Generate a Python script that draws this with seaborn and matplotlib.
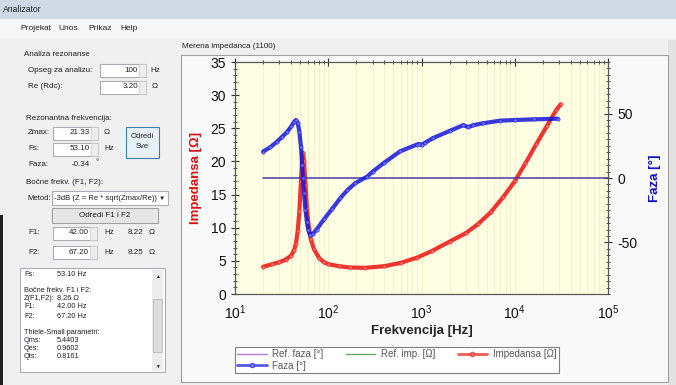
import numpy as np
import pandas as pd
import matplotlib
matplotlib.use("Agg")
import matplotlib.pyplot as plt
import matplotlib.patches as mpatches
from matplotlib.lines import Line2D
from matplotlib.ticker import LogLocator, MultipleLocator, NullFormatter
import seaborn as sns

# values
freq_imp = [20, 25, 30, 35, 40, 43, 45, 47, 49, 51, 52.5, 53.5, 55, 57, 59, 62, 65, 70, 80, 90,
            100, 130, 170, 250, 400, 600, 900, 1300, 2000, 3000, 4000, 5500, 7500, 10000,
            13000, 17000, 22000, 28000, 31000]
imp = [4.1, 4.5, 4.8, 5.2, 5.8, 6.6, 7.6, 9.5, 12.5, 17.0, 20.5, 21.3, 20.0, 16.5, 13.0, 10.0,
       8.3, 6.8, 5.4, 4.8, 4.5, 4.2, 4.0, 3.95, 4.2, 4.7, 5.5, 6.5, 7.9, 9.2, 10.5, 12.3, 14.6,
       17.0, 19.7, 22.6, 25.3, 27.8, 28.6]

freq_faza = [20, 24, 28, 32, 36, 40, 43, 45, 47, 49, 51, 52.5, 53.5, 55, 57, 59, 61, 64, 68, 75,
             90, 110, 135, 160, 195, 260, 300, 400, 590, 890, 950, 1000, 1100, 1330, 2000, 2800,
             3170, 3600, 4600, 7000, 10000, 16000, 29000]
faza = [20.5, 24, 28, 32, 35.5, 40, 43.5, 45, 43, 36, 24, 10, 0, -12, -25, -34, -40, -44.5,
        -43.5, -40, -32, -24, -15.5, -9.5, -4, 1, 5, 12, 20.7, 25.9, 26.5, 25.5, 27.5, 31, 36.5,
        41, 39.5, 41, 42.5, 44.5, 45, 45.5, 46]

ref_faza_f = [20, 100000]
ref_faza = [0, 0]
ref_imp_f = []
ref_imp = []

df_imp = pd.DataFrame({"f": freq_imp, "z": imp})
df_faza = pd.DataFrame({"f": freq_faza, "p": faza})

sns.set_style("white")
plt.rcParams["font.family"] = ["Liberation Sans", "DejaVu Sans"]
plt.rcParams["axes.unicode_minus"] = False

fig = plt.figure(figsize=(6.76, 3.85), dpi=100)
fig.patch.set_facecolor("#F0F0F0")

# ---- window / gui around the chart ----
gui = fig.add_axes([0, 0, 1, 1], zorder=0)
gui.set_xlim(0, 676)
gui.set_ylim(385, 0)
gui.axis("off")

def box(x, y, w, h, fc="white", ec="#ABADB3", lw=0.8):
    gui.add_patch(mpatches.Rectangle((x, y), w, h, facecolor=fc, edgecolor=ec, linewidth=lw))

def txt(x, y, s, size=5.8, **kw):
    gui.text(x, y, s, fontsize=size, va="center", color=kw.pop("color", "#202020"), **kw)

def field(x, y, val, w=46):
    box(x, y - 6.5, w, 13)
    box(x + w - 7, y - 6.5, 7, 13, fc="#EDEDED", ec="#C8C8C8", lw=0.5)
    txt(x + w - 8, y, val, ha="right")

box(0, 0, 676, 19, fc="#CFD9E6", ec="none")
box(0, 19, 676, 19, fc="#F6F6F6", ec="none")
txt(3, 9, "Analizator", size=6.2)
for x, s in [(20, "Projekat"), (58, "Unos"), (88, "Prikaz"), (120, "Help")]:
    txt(x, 29, s, size=6)
box(0, 215, 3, 170, fc="#202020", ec="none")
box(668, 40, 8, 345, fc="#E2E2E2", ec="none")

txt(24, 55, "Analiza rezonanse")
txt(28, 70, "Opseg za analizu:")
txt(28, 87, "Re (Rdc):")
field(100, 70, "100")
txt(150, 70, "Hz")
field(100, 87, "3.20")
txt(152, 87, "Ω")

txt(26, 118, "Rezonantna frekvencija:")
txt(28, 133, "Zmax:")
txt(28, 149, "Fs:")
txt(28, 165, "Faza:")
field(53, 133, "21.33", w=45)
txt(104, 133, "Ω")
field(53, 149, "53.10", w=45)
txt(104, 149, "Hz")
txt(90, 165, "-0.34", ha="right")
txt(95, 163, "°")
box(126, 127, 33, 31, fc="#E8F0F8", ec="#3C7FB1")
txt(142.5, 137, "Odredi", ha="center", size=5.5)
txt(142.5, 147, "Sve", ha="center", size=5.5)

txt(26, 183, "Bočne frekv. (F1, F2):")
txt(27, 198, "Metod:", size=5.5)
box(52, 191, 116, 14)
txt(54, 198, "-3dB (Z = Re * sqrt(Zmax/Re))", size=5.5)
txt(162, 198, "▼", size=4.5, ha="center")
box(52, 208, 106, 15, fc="#E6E6E6", ec="#A0A0A0")
txt(105, 215.5, "Odredi F1 i F2", ha="center")

txt(28, 233, "F1:")
txt(28, 252, "F2:")
field(53, 233, "42.00", w=44)
txt(104, 233, "Hz")
txt(143, 233, "8.22", ha="right")
txt(149, 233, "Ω")
field(53, 252, "67.20", w=44)
txt(104, 252, "Hz")
txt(143, 252, "8.25", ha="right")
txt(149, 252, "Ω")

box(20, 268, 145, 104)
box(152, 270, 11, 101, fc="#ECECEC", ec="none")
box(153, 299, 9, 53, fc="#DCDCDC", ec="#B0B0B0", lw=0.5)
txt(157.5, 277, "▲", size=3.5, ha="center")
txt(157.5, 366, "▼", size=3.5, ha="center")
lines_txt = [(275, "Fs:", "53.10 Hz"), (291, "Bočne frekv. F1 i F2:", ""),
             (299, "Z(F1,F2):", "8.26 Ω"), (307, "F1:", "42.00 Hz"), (316, "F2:", "67.20 Hz"),
             (333, "Thiele-Small parametri:", ""), (341, "Qms:", "5.4403"),
             (349, "Qes:", "0.9602"), (357, "Qts:", "0.8161")]
for y, a, b in lines_txt:
    txt(24, y, a, size=5.3)
    txt(57, y, b, size=5.3)

txt(182, 47, "Merena impedanca (1100)", size=5.8)
box(181, 55, 487, 327, fc="#F9F9F9", ec="#A0A0A0")

# ---- the chart ----
ax = fig.add_axes([235 / 676, 1 - 294 / 385, 373 / 676, 232 / 385], zorder=2)
ax.set_facecolor("#FEFEE2")
ax2 = ax.twinx()

ax.plot(ref_imp_f, ref_imp, color="#66AA66", lw=1, label="Ref. imp. [Ω]")
sns.lineplot(data=df_imp, x="f", y="z", ax=ax, color="#EE1111", lw=3, marker="o",
             markersize=2.4, markerfacecolor="#FF8080", markeredgecolor="#E82020",
             markeredgewidth=0.5, alpha=0.85, label="Impedansa [Ω]", zorder=4)
sns.lineplot(x=ref_faza_f, y=ref_faza, ax=ax2, color="#4A3AA8", lw=1.1,
             label="Ref. faza [°]", zorder=3)
sns.lineplot(data=df_faza, x="f", y="p", ax=ax2, color="#1515DD", lw=3, marker="o",
             markersize=2.4, markerfacecolor="#8080FF", markeredgecolor="#2020DD",
             markeredgewidth=0.5, alpha=0.85, label="Faza [°]", zorder=3)

ax.set_xscale("log")
ax.set_xlim(10, 1e5)
ax.set_ylim(0, 35)
ax2.set_ylim(-90, 90)
ax.xaxis.set_major_locator(LogLocator(base=10, numticks=10))
ax.xaxis.set_minor_locator(LogLocator(base=10, subs=np.arange(2, 10), numticks=20))
ax.xaxis.set_minor_formatter(NullFormatter())
ax.yaxis.set_major_locator(MultipleLocator(5))
ax.yaxis.set_minor_locator(MultipleLocator(1))
ax2.yaxis.set_major_locator(MultipleLocator(50))
ax2.yaxis.set_minor_locator(MultipleLocator(5))
ax.grid(True, which="both", axis="x", color="#F0F0C4", lw=0.6)

ax.tick_params(axis="both", which="major", direction="inout", length=6, width=0.8,
               labelsize=10, colors="#333333", top=True)
ax.tick_params(axis="both", which="minor", direction="inout", length=3, width=0.6,
               colors="#333333", top=True)
ax.tick_params(axis="y", labelcolor="#111111")
ax.tick_params(axis="x", labelcolor="#111111", pad=4)
ax2.tick_params(axis="y", which="major", direction="inout", length=6, width=0.8,
                labelsize=10, colors="#333333", labelcolor="#111111", pad=4)
ax2.tick_params(axis="y", which="minor", direction="inout", length=3, width=0.6,
                colors="#333333")
for a in (ax, ax2):
    for sp in a.spines.values():
        sp.set_color("#555555")
        sp.set_linewidth(0.8)

ax.set_xlabel("Frekvencija [Hz]", fontsize=9.5, fontweight="bold", labelpad=2)
ax.set_ylabel("Impedansa [Ω]", fontsize=9.5, fontweight="bold", color="#E01010", labelpad=6)
ax2.set_ylabel("Faza [°]", fontsize=9.5, fontweight="bold", color="#1010D0", labelpad=8)

h1, l1 = ax.get_legend_handles_labels()
h2, l2 = ax2.get_legend_handles_labels()
for a in (ax, ax2):
    if a.get_legend():
        a.get_legend().remove()
hd = dict(zip(l1 + l2, h1 + h2))
hd["Ref. faza [°]"] = Line2D([], [], color="#B07FD8", lw=1)
hd["Impedansa [Ω]"] = Line2D([], [], color="#F03030", lw=2, marker="o", ms=3,
                             markerfacecolor="#FF9090", markeredgecolor="#F03030", alpha=0.8)
hd["Faza [°]"] = Line2D([], [], color="#3030E0", lw=2, marker="o", ms=3,
                        markerfacecolor="#9090FF", markeredgecolor="#3030E0", alpha=0.8)
order = ["Ref. faza [°]", "Faza [°]", "Ref. imp. [Ω]", "Impedansa [Ω]"]
leg = fig.legend([hd[k] for k in order], order, loc="upper left",
                 bbox_to_anchor=(235 / 676, 1 - 347 / 385), ncol=3, fontsize=7,
                 frameon=True, fancybox=False, edgecolor="#808080", framealpha=1,
                 handlelength=3, columnspacing=2.3, borderpad=0.25, labelspacing=0.15,
                 handletextpad=0.6, borderaxespad=0)
leg.get_frame().set_linewidth(0.8)
for t in leg.get_texts():
    t.set_color("#555555")

fig.savefig("out.png", dpi=100, facecolor=fig.get_facecolor())
